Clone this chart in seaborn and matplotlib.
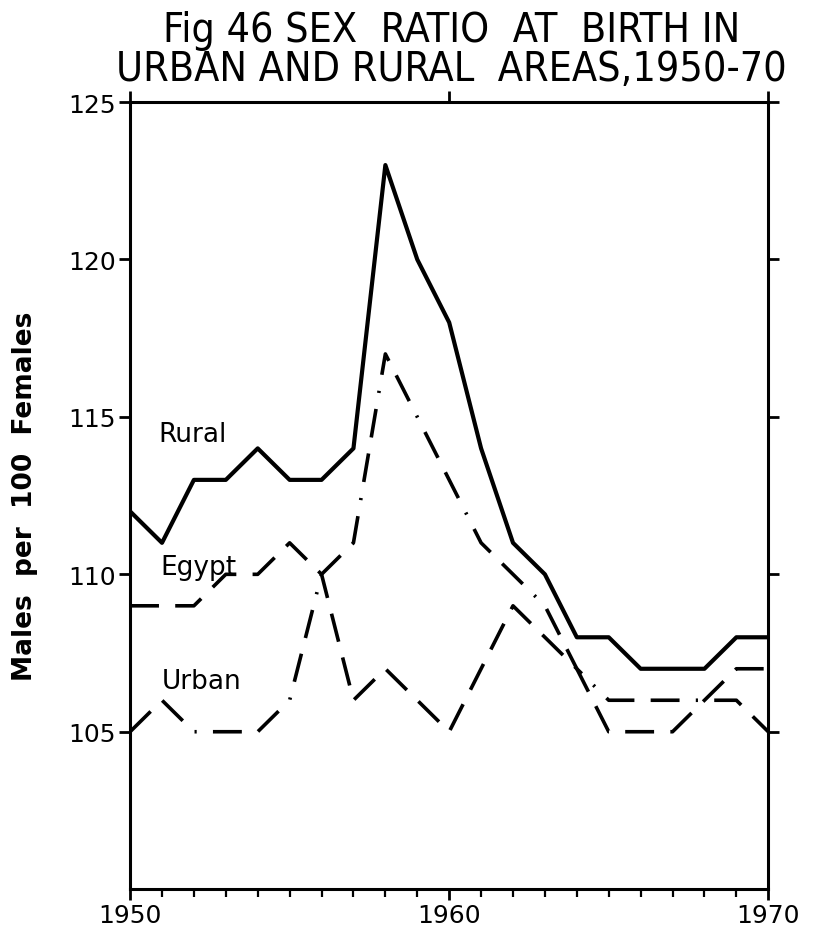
import matplotlib
matplotlib.use("Agg")
import matplotlib.pyplot as plt
from matplotlib import font_manager
from matplotlib.ticker import MultipleLocator
import pandas as pd
import seaborn as sns

# values (males per 100 females)
years = list(range(1950, 1971))
rural = [112, 111, 113, 113, 114, 113, 113, 114, 123, 120, 118,
         114, 111, 110, 108, 108, 107, 107, 107, 108, 108]
egypt = [109, 109, 109, 110, 110, 111, 110, 106, 107, 106, 105,
         107, 109, 108, 107, 105, 105, 105, 106, 107, 107]
urban = [105, 106, 105, 105, 105, 106, 110, 111, 117, 115, 113,
         111, 110, 109, 107, 106, 106, 106, 106, 106, 105]

series_names = ["Rural", "Egypt", "Urban"]
y_ticks = [105, 110, 115, 120, 125]
x_ticks = [1950, 1960, 1970]

df = pd.DataFrame({
    "year": years * 3,
    "ratio": rural + egypt + urban,
    "area": [n for n in series_names for _ in years],
})

sns.set_style("ticks")
plt.rcParams["font.family"] = ["DejaVu Sans"]
for key in ["text.color", "axes.labelcolor", "xtick.color", "ytick.color", "axes.edgecolor"]:
    plt.rcParams[key] = "black"

# use a condensed face for the title if one is there, else shrink the size
condensed = any(f.name == "DejaVu Sans" and str(f.stretch) in ("condensed", "semi-condensed", "600")
                for f in font_manager.fontManager.ttflist)
title_kw = dict(fontsize=29.5, fontstretch="condensed") if condensed else dict(fontsize=26.5)

fig = plt.figure(figsize=(8.13, 9.37), dpi=100)
ax = fig.add_axes([0.160, 0.050, 0.785, 0.840])

sns.lineplot(
    data=df, x="year", y="ratio", style="area", ax=ax,
    color="black", linewidth=2.6, legend=False,
    dashes={"Rural": "", "Egypt": (8, 4.5), "Urban": (8, 4.5, 8, 4.5, 0.6, 4.5)},
)
ax.lines[0].set_linewidth(3.0)

ax.set_xlim(1950, 1970)
ax.set_ylim(100, 125)
ax.set_xticks(x_ticks)
ax.set_yticks(y_ticks)
ax.xaxis.set_minor_locator(MultipleLocator(1))
ax.tick_params(axis="both", which="major", direction="out", length=8, width=2,
               labelsize=18, top=True, right=True, pad=2)
ax.tick_params(axis="x", which="minor", direction="out", length=6, width=1.6,
               bottom=True, top=False)
for side in ["left", "right", "top", "bottom"]:
    ax.spines[side].set_linewidth(2.2)
    ax.spines[side].set_visible(True)

ax.set_xlabel("")
ax.set_ylabel("Males  per  100  Females", fontsize=19, fontweight="bold")
ax.yaxis.set_label_coords(-0.145, 0.5)

# line labels next to the start of each series
ax.text(1950.9, 114.25, "Rural", fontsize=19)
ax.text(1950.95, 110.0, "Egypt", fontsize=19)
ax.text(1951.0, 106.4, "Urban", fontsize=19)

fig.text(0.555, 0.988, "Fig 46 SEX  RATIO  AT  BIRTH IN\nURBAN AND RURAL  AREAS,1950-70",
         ha="center", va="top", linespacing=0.95, **title_kw)

fig.savefig("out.png", dpi=100)
